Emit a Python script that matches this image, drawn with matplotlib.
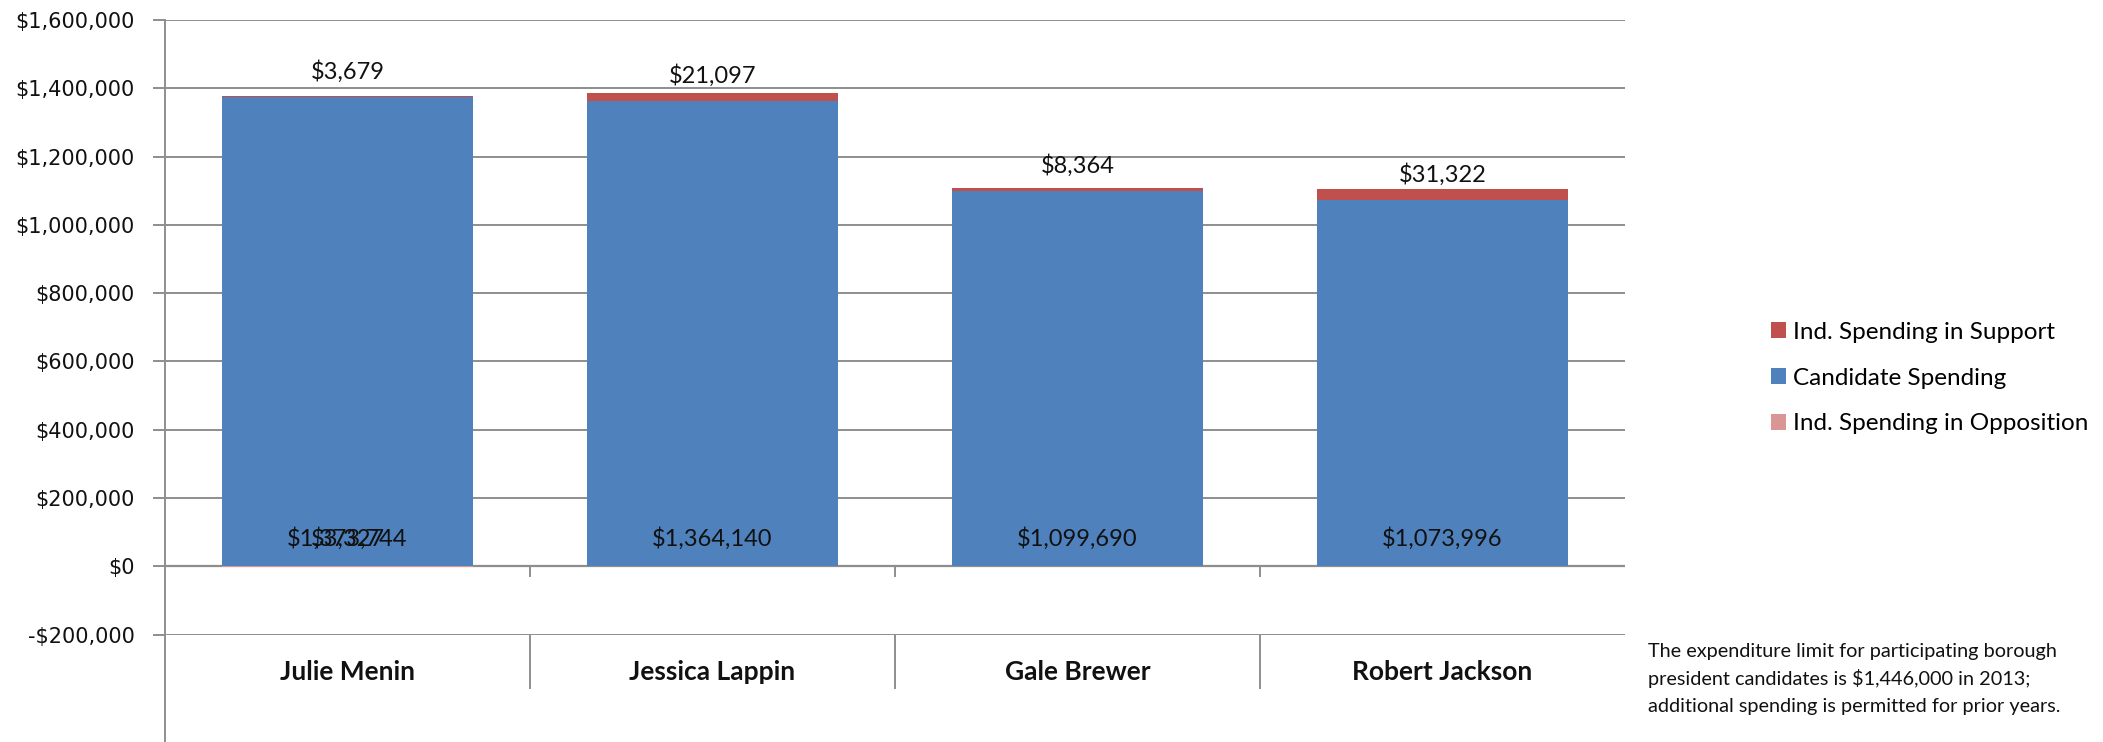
import matplotlib
matplotlib.use("Agg")
import matplotlib.pyplot as plt
import matplotlib.transforms as mtransforms
from matplotlib.patches import Patch
from matplotlib.lines import Line2D
from matplotlib.ticker import FuncFormatter
import numpy as np

# ---- data ----
candidates = ["Julie Menin", "Jessica Lappin", "Gale Brewer", "Robert Jackson"]
candidate_spending = [1373744, 1364140, 1099690, 1073996]
support_spending = [3679, 21097, 8364, 31322]
opposition_spending = [-3327, 0, 0, 0]
y_ticks = [-200000, 0, 200000, 400000, 600000, 800000, 1000000, 1200000, 1400000, 1600000]
series_names = ["Ind. Spending in Support", "Candidate Spending", "Ind. Spending in Opposition"]
note_lines = ["The expenditure limit for participating borough",
              "president candidates is $1,446,000 in 2013;",
              "additional spending is permitted for prior years."]

# ---- style ----
C_BLUE = "#4F81BD"
C_RED = "#C0504D"
C_PINK = "#D99694"
C_GRID = "#8E8E8E"
LBL_FONT = "Lato"
TXT = "#111111"

W, H = 2103, 742
fig = plt.figure(figsize=(W / 100, H / 100), dpi=100)
ax_left, ax_right = 165, 1625
ax_top, ax_bot = 20, 634.5
ax = fig.add_axes([ax_left / W, (H - ax_bot) / H, (ax_right - ax_left) / W, (ax_bot - ax_top) / H])

x = np.arange(len(candidates))
bw = 0.69
ax.bar(x, candidate_spending, width=bw, color=C_BLUE, zorder=2)
ax.bar(x, support_spending, width=bw, bottom=candidate_spending, color=C_RED, zorder=2)
ax.bar(x, opposition_spending, width=bw, color=C_PINK, zorder=2)

ax.set_xlim(-0.5, len(candidates) - 0.5)
ax.set_ylim(y_ticks[0], y_ticks[-1])
ax.set_yticks(y_ticks)
ax.yaxis.set_major_formatter(FuncFormatter(lambda v, p: ("-$" if v < 0 else "$") + f"{abs(v):,.0f}"))
ax.yaxis.grid(True, color=C_GRID, lw=1.4, zorder=0)
ax.set_axisbelow(True)
ax.axhline(0, color=C_GRID, lw=1.6, zorder=1)
ax.set_xticks([])
for s in ax.spines.values():
    s.set_visible(False)
ax.tick_params(axis="y", length=9, width=1.4, color=C_GRID, pad=13, labelsize=15)
for t in ax.get_yticklabels():
    t.set_fontfamily("DejaVu Sans")
    t.set_color(TXT)

# y axis line extends to bottom of figure
fig.add_artist(Line2D([ax_left / W, ax_left / W], [0, (H - ax_top) / H],
                      transform=fig.transFigure, color=C_GRID, lw=1.4))

# category separators and ticks
trans = mtransforms.blended_transform_factory(ax.transData, ax.transAxes)
ax_h = ax_bot - ax_top
zero_frac = (ax_bot - 567) / ax_h
for b in np.arange(len(candidates) - 1) + 0.5:
    ax.plot([b, b], [zero_frac, zero_frac - 9 / ax_h], color=C_GRID, lw=1.4,
            transform=trans, clip_on=False, zorder=1)
    ax.plot([b, b], [0, -53.5 / ax_h], color=C_GRID, lw=1.4, transform=trans, clip_on=False)

for i, name in enumerate(candidates):
    ax.text(i, -(680 - ax_bot) / ax_h, name, transform=trans, ha="center", va="baseline",
            fontsize=19, fontweight="bold", family=LBL_FONT, color=TXT)

# data labels (inside base, baseline ~19 px above segment base)
PX = 72 / 100
LFS = 17
for i in range(len(candidates)):
    ax.annotate(f"${candidate_spending[i]:,}", (x[i], 0), xytext=(0, 20 * PX), textcoords="offset points",
                ha="center", va="baseline", fontsize=LFS, family=LBL_FONT, color=TXT, zorder=5)
    if opposition_spending[i] != 0:
        ax.annotate(f"${abs(opposition_spending[i]):,}", (x[i], 0), xytext=(0, 20 * PX),
                    textcoords="offset points", ha="center", va="baseline", fontsize=LFS,
                    family=LBL_FONT, color=TXT, zorder=5)
    ax.annotate(f"${support_spending[i]:,}", (x[i], candidate_spending[i]),
                xytext=(0, 18 * PX), textcoords="offset points",
                ha="center", va="baseline", fontsize=LFS, family=LBL_FONT, color=TXT, zorder=5)

# legend
handles = [Patch(facecolor=C_RED), Patch(facecolor=C_BLUE), Patch(facecolor=C_PINK)]
fig.legend(handles, series_names, loc="center left", bbox_to_anchor=(1771 / W, (H - 378) / H),
           frameon=False, prop={"family": LBL_FONT, "size": 17.5},
           handlelength=0.62, handleheight=0.62, handletextpad=0.3, labelspacing=1.02,
           borderaxespad=0, borderpad=0)

for k, line in enumerate(note_lines):
    fig.text(1648 / W, (H - (657 + 27.5 * k)) / H, line, ha="left", va="baseline", fontsize=14.3,
             family=LBL_FONT, color=TXT)

fig.savefig("out.png", dpi=100, facecolor="white")
